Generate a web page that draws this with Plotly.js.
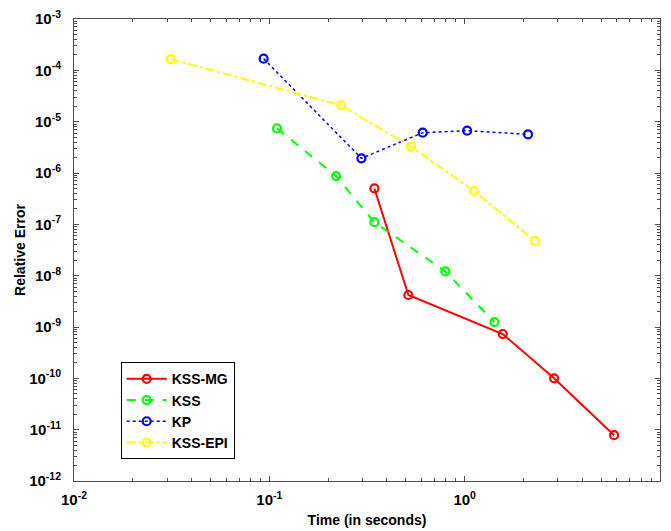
<!DOCTYPE html>
<html>
<head>
<meta charset="utf-8">
<script src="https://cdn.plot.ly/plotly-3.0.1.min.js"></script>
<style>
  html, body { margin: 0; padding: 0; background: #fff; }
  #chart { width: 671px; height: 531px; }
</style>
</head>
<body>
<div id="chart"></div>
<script>
// Run time (s) versus relative error for each solver
const mgTime  = [0.345, 0.515, 1.567, 2.87, 5.82];
const mgErr   = [5.0e-7, 4.2e-9, 7.3e-10, 1.0e-10, 7.8e-12];

const kssTime = [0.1095, 0.2196, 0.345, 0.796, 1.42];
const kssErr  = [7.4e-6, 8.7e-7, 1.1e-7, 1.21e-8, 1.25e-9];

const kpTime  = [0.0935, 0.296, 0.61, 1.03, 2.11];
const kpErr   = [1.69e-4, 1.93e-6, 6.1e-6, 6.67e-6, 5.67e-6];

const epiTime = [0.0313, 0.233, 0.532, 1.117, 2.29];
const epiErr  = [1.66e-4, 2.08e-5, 3.26e-6, 4.46e-7, 4.73e-8];

const seriesNames = ['KSS-MG', 'KSS', 'KP', 'KSS-EPI'];

// Decade exponents for the tick labels
const xExponents = [-2, -1, 0, 1];
const yExponents = [-12, -11, -10, -9, -8, -7, -6, -5, -4, -3];

const FONT = 'Liberation Sans, Arial, Helvetica, sans-serif';

function decadeTicks(exps) {
  return {
    vals: exps.map(e => Math.pow(10, e)),
    text: exps.map(e => '<b>10<sup>' + e + '</sup></b>')
  };
}
function minorTicks(exps) {
  const out = [];
  for (let i = 0; i < exps.length - 1; i++) {
    for (let m = 2; m <= 9; m++) out.push(m * Math.pow(10, exps[i]));
  }
  return out;
}

const xt = decadeTicks(xExponents);
const yt = decadeTicks(yExponents);

function trace(x, y, name, color, dash, width) {
  return {
    x: x, y: y, name: '<b>' + name + '</b>', type: 'scatter', mode: 'lines+markers',
    line: { color: color, width: width, dash: dash },
    marker: { symbol: 'circle-open', size: 8, color: color, line: { color: color, width: 2.2 } }
  };
}

const data = [
  trace(mgTime,  mgErr,  seriesNames[0], '#ff0000', 'solid', 2),
  trace(kssTime, kssErr, seriesNames[1], '#00ff00', 'dash', 2),
  trace(kpTime,  kpErr,  seriesNames[2], '#0000ff', 'dot', 1.5),
  trace(epiTime, epiErr, seriesNames[3], '#ffff00', 'dashdot', 2)
];

const axisCommon = {
  type: 'log',
  showgrid: false,
  zeroline: false,
  showline: true,
  linecolor: '#4d4d4d',
  linewidth: 1,
  mirror: 'allticks',
  ticks: 'inside',
  ticklen: 5,
  tickwidth: 1,
  tickcolor: '#4d4d4d',
  tickmode: 'array',
  tickfont: { family: FONT, size: 15, color: '#000' }
};

const layout = {
  width: 671, height: 531,
  margin: { l: 74, r: 11, t: 19, b: 50 },
  paper_bgcolor: '#fff',
  plot_bgcolor: '#fff',
  showlegend: true,
  font: { family: FONT, color: '#000' },
  xaxis: Object.assign({}, axisCommon, {
    range: [-2, 1],
    tickvals: xt.vals, ticktext: xt.text,
    ticklabelstandoff: 5,
    minor: { tickmode: 'array', tickvals: minorTicks(xExponents), ticks: 'inside', ticklen: 3, tickcolor: '#4d4d4d' },
    title: { text: '<b>Time (in seconds)</b>', font: { family: FONT, size: 14, color: '#000' }, standoff: 8 }
  }),
  yaxis: Object.assign({}, axisCommon, {
    range: [-12, -3],
    tickvals: yt.vals, ticktext: yt.text,
    ticklabelstandoff: 9,
    minor: { tickmode: 'array', tickvals: minorTicks(yExponents), ticks: 'inside', ticklen: 3, tickcolor: '#4d4d4d' },
    title: { text: '<b>Relative Error</b>', font: { family: FONT, size: 14, color: '#000' }, standoff: 0 }
  }),
  legend: {
    x: 0.0797, y: 0.257, xanchor: 'left', yanchor: 'top',
    bgcolor: '#fff', bordercolor: '#000', borderwidth: 1,
    font: { family: FONT, size: 14, color: '#000' },
    tracegroupgap: 0,
    itemwidth: 40
  }
};

Plotly.newPlot('chart', data, layout, { displayModeBar: false, staticPlot: true });
</script>
</body>
</html>
